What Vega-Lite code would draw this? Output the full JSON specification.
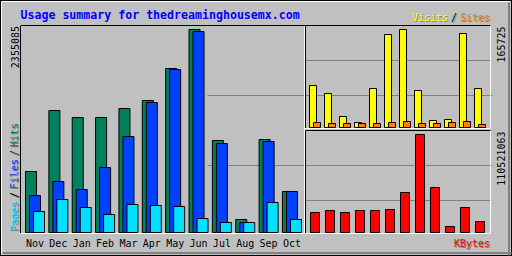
{
  "$schema": "https://vega.github.io/schema/vega-lite/v6.json",
  "width": 512,
  "height": 256,
  "autosize": {"type": "none"},
  "padding": 0,
  "background": "#c0c0c0",
  "data": {"values": [
    {"month": "Nov", "hits": 707700, "files": 429250, "pages": 243630, "visits": 71025, "sites": 8455, "kbytes": 22555320},
    {"month": "Dec", "hits": 1415370, "files": 591670, "pages": 382850, "visits": 57496, "sites": 6764, "kbytes": 24810850},
    {"month": "Jan", "hits": 1334160, "files": 498860, "pages": 290040, "visits": 18602, "sites": 6764, "kbytes": 22555320},
    {"month": "Feb", "hits": 1334160, "files": 754090, "pages": 208830, "visits": 8455, "sites": 6764, "kbytes": 24810850},
    {"month": "Mar", "hits": 1438570, "files": 1113730, "pages": 324840, "visits": 65952, "sites": 6764, "kbytes": 24810850},
    {"month": "Apr", "hits": 1531380, "files": 1508180, "pages": 313240, "visits": 157270, "sites": 8455, "kbytes": 25938620},
    {"month": "May", "hits": 1902630, "files": 1891030, "pages": 301640, "visits": 165725, "sites": 10146, "kbytes": 45110640},
    {"month": "Jun", "hits": 2355085, "files": 2331880, "pages": 162420, "visits": 62570, "sites": 6764, "kbytes": 110521063},
    {"month": "Jul", "hits": 1067330, "files": 1032520, "pages": 116010, "visits": 11837, "sites": 6764, "kbytes": 50749470},
    {"month": "Aug", "hits": 150820, "files": 116010, "pages": 116010, "visits": 13529, "sites": 8455, "kbytes": 6766600},
    {"month": "Sep", "hits": 1078930, "files": 1055730, "pages": 348040, "visits": 158961, "sites": 10146, "kbytes": 28194150},
    {"month": "Oct", "hits": 475660, "files": 475660, "pages": 150820, "visits": 65952, "sites": 5073, "kbytes": 12405430}
  ]},
  "layer": [
    {
      "mark": {"type": "bar", "width": 9, "opacity": 0},
      "encoding": {
        "x": {"field": "month", "type": "nominal", "sort": null,
          "scale": {"range": [1, 510], "paddingInner": 0, "paddingOuter": 0},
          "axis": {"orient": "top", "offset": -1, "domain": true, "domainColor": "white", "title": null}},
        "y": {"field": "hits", "type": "quantitative",
          "scale": {"domain": [0, 1], "range": [254, 1], "nice": false},
          "axis": {"orient": "left", "offset": -1, "domain": true, "domainColor": "white", "title": null}}
      }
    },
    {
      "mark": {"type": "bar", "width": 9, "opacity": 0},
      "encoding": {
        "x": {"field": "month", "type": "nominal", "sort": null,
          "scale": {"range": [2, 511], "paddingInner": 0, "paddingOuter": 0},
          "axis": {"orient": "bottom", "offset": -3.5, "domain": true, "domainColor": "#808080", "domainWidth": 2, "title": null}},
        "y": {"field": "hits", "type": "quantitative",
          "scale": {"domain": [0, 1], "range": [255, 2], "nice": false},
          "axis": {"orient": "right", "offset": -3.5, "domain": true, "domainColor": "#808080", "domainWidth": 2, "title": null}}
      }
    },
    {
      "mark": {"type": "bar", "width": 9, "opacity": 0},
      "encoding": {
        "x": {"field": "month", "type": "nominal", "sort": null,
          "scale": {"range": [0, 512], "paddingInner": 0, "paddingOuter": 0},
          "axis": {"orient": "top", "offset": 0, "domain": false, "title": "Visits", "titleX": 412.5, "titleY": 21.5, "titleAngle": 0, "titleAlign": "left", "titleBaseline": "alphabetic", "titleColor": "#808080"}},
        "y": {"field": "hits", "type": "quantitative",
          "scale": {"domain": [0, 1], "range": [256, 0], "nice": false},
          "axis": {"orient": "left", "offset": 0, "domain": false, "title": "Sites", "titleX": 460.5, "titleY": 21.5, "titleAngle": 0, "titleAlign": "left", "titleBaseline": "alphabetic", "titleColor": "#808080"}}
      }
    },
    {
      "mark": {"type": "bar", "width": 9, "opacity": 0},
      "encoding": {
        "x": {"field": "month", "type": "nominal", "sort": null,
          "scale": {"range": [0, 512], "paddingInner": 0, "paddingOuter": 0},
          "axis": {"orient": "top", "offset": 0, "domain": false, "title": "KBytes", "titleX": 454.5, "titleY": 247.5, "titleAngle": 0, "titleAlign": "left", "titleBaseline": "alphabetic", "titleColor": "#808080"}},
        "y": {"field": "hits", "type": "quantitative",
          "scale": {"domain": [0, 1], "range": [256, 0], "nice": false},
          "axis": {"orient": "left", "offset": 0, "domain": false, "title": "Pages", "titleX": 18.5, "titleY": 231.5, "titleAngle": -90, "titleAlign": "left", "titleBaseline": "alphabetic", "titleColor": "#808080"}}
      }
    },
    {
      "mark": {"type": "bar", "width": 9, "opacity": 0},
      "encoding": {
        "x": {"field": "month", "type": "nominal", "sort": null,
          "scale": {"range": [0, 512], "paddingInner": 0, "paddingOuter": 0},
          "axis": {"orient": "top", "offset": 0, "domain": false, "title": "Files", "titleX": 18.5, "titleY": 189.5, "titleAngle": -90, "titleAlign": "left", "titleBaseline": "alphabetic", "titleColor": "#808080"}},
        "y": {"field": "hits", "type": "quantitative",
          "scale": {"domain": [0, 1], "range": [256, 0], "nice": false},
          "axis": {"orient": "left", "offset": 0, "domain": false, "title": "Hits", "titleX": 18.5, "titleY": 147.5, "titleAngle": -90, "titleAlign": "left", "titleBaseline": "alphabetic", "titleColor": "#808080"}}
      }
    },
    {
      "mark": {"type": "bar", "width": 9, "opacity": 0},
      "encoding": {
        "x": {"field": "month", "type": "nominal", "sort": null,
          "scale": {"range": [0, 512], "paddingInner": 0, "paddingOuter": 0},
          "axis": {"orient": "top", "offset": 0, "domain": false, "title": "/", "titleX": 18.5, "titleY": 198.5, "titleAngle": -90, "titleAlign": "left", "titleBaseline": "alphabetic", "titleColor": "#808080"}},
        "y": {"field": "hits", "type": "quantitative",
          "scale": {"domain": [0, 1], "range": [256, 0], "nice": false},
          "axis": {"orient": "left", "offset": 0, "domain": false, "title": "/", "titleX": 18.5, "titleY": 156.5, "titleAngle": -90, "titleAlign": "left", "titleBaseline": "alphabetic", "titleColor": "#808080"}}
      }
    },
    {
      "mark": {"type": "bar", "width": 9, "opacity": 0},
      "encoding": {
        "x": {"field": "month", "type": "nominal", "sort": null,
          "scale": {"range": [0, 512], "paddingInner": 0, "paddingOuter": 0},
          "axis": {"orient": "top", "offset": 0, "domain": false, "title": "/", "titleX": 451.5, "titleY": 21.5, "titleAngle": 0, "titleAlign": "left", "titleBaseline": "alphabetic", "titleColor": "#808080"}},
        "y": {"field": "hits", "type": "quantitative",
          "scale": {"domain": [0, 1], "range": [256, 0], "nice": false},
          "axis": {"orient": "left", "offset": 0, "domain": false, "title": null}}
      }
    },
    {
      "mark": {"type": "bar", "width": 11, "xOffset": -4, "fill": "#00805c", "stroke": "black", "strokeWidth": 1},
      "encoding": {
        "x": {"field": "month", "type": "nominal", "sort": null,
          "scale": {"domain": ["Nov","Dec","Jan","Feb","Mar","Apr","May","Jun","Jul","Aug","Sep","Oct"], "range": [20, 305], "paddingInner": 0, "paddingOuter": 0.1, "align": 0.711},
          "axis": {"orient": "bottom", "offset": -23, "domain": true, "domainColor": "white", "labels": true, "labelAngle": 0, "labelAlign": "center", "labelBaseline": "alphabetic", "labelPadding": 13.5, "labelColor": "black",
            "title": "/", "titleX": 17.5, "titleY": -35.5, "titleAngle": -90, "titleAlign": "left", "titleBaseline": "alphabetic", "titleColor": "black"}},
        "y": {"field": "hits", "type": "quantitative",
          "scale": {"domain": [0, 2401490], "range": [232.5, 25.5], "nice": false, "zero": true},
          "axis": {"orient": "left", "offset": -20, "domain": true, "domainColor": "black", "values": [2355085], "format": "d", "labels": true, "labelAngle": -90, "labelAlign": "right", "labelBaseline": "alphabetic", "labelPadding": 1.5, "labelOffset": -4, "labelColor": "black",
            "title": "Hits", "titleX": -2.5, "titleY": 146.5, "titleAngle": -90, "titleAlign": "left", "titleBaseline": "alphabetic", "titleColor": "#00805c"}}
      }
    },
    {
      "mark": {"type": "bar", "width": 11, "xOffset": 0, "fill": "#0040ff", "stroke": "black", "strokeWidth": 1},
      "encoding": {
        "x": {"field": "month", "type": "nominal", "sort": null,
          "scale": {"domain": ["Nov","Dec","Jan","Feb","Mar","Apr","May","Jun","Jul","Aug","Sep","Oct"], "range": [20, 305], "paddingInner": 0, "paddingOuter": 0.1, "align": 0.711},
          "axis": {"orient": "top", "offset": -25, "domain": true, "domainColor": "black",
            "title": "Usage summary for thedreaminghousemx.com", "titleX": 20, "titleY": -6.5, "titleAngle": 0, "titleAlign": "left", "titleBaseline": "alphabetic", "titleColor": "#0000ff", "titleFontSize": 11.6, "titleFontWeight": "bold"}},
        "y": {"field": "files", "type": "quantitative",
          "scale": {"domain": [0, 2401490], "range": [232.5, 25.5], "nice": false, "zero": true},
          "axis": {"orient": "right", "offset": -208, "domain": true, "domainColor": "white", "grid": true, "values": [783095, 1595193],
            "title": "Files", "titleX": -286.5, "titleY": 188.5, "titleAngle": -90, "titleAlign": "left", "titleBaseline": "alphabetic", "titleColor": "#0040ff"}}
      }
    },
    {
      "mark": {"type": "bar", "width": 11, "xOffset": 4, "fill": "#00e0ff", "stroke": "black", "strokeWidth": 1},
      "encoding": {
        "x": {"field": "month", "type": "nominal", "sort": null,
          "scale": {"domain": ["Nov","Dec","Jan","Feb","Mar","Apr","May","Jun","Jul","Aug","Sep","Oct"], "range": [20, 305], "paddingInner": 0, "paddingOuter": 0.1, "align": 0.711},
          "axis": {"orient": "top", "offset": -25, "domain": false,
            "title": "/", "titleX": 17.5, "titleY": 130.5, "titleAngle": -90, "titleAlign": "left", "titleBaseline": "alphabetic", "titleColor": "black"}},
        "y": {"field": "pages", "type": "quantitative",
          "scale": {"domain": [0, 2401490], "range": [232.5, 25.5], "nice": false, "zero": true},
          "axis": {"orient": "left", "offset": -20, "domain": false,
            "title": "Pages", "titleX": -2.5, "titleY": 230.5, "titleAngle": -90, "titleAlign": "left", "titleBaseline": "alphabetic", "titleColor": "#00e0ff"}}
      }
    },
    {
      "mark": {"type": "bar", "width": 7, "xOffset": -2, "fill": "#ffff00", "stroke": "black", "strokeWidth": 1},
      "encoding": {
        "x": {"field": "month", "type": "nominal", "sort": null,
          "scale": {"domain": ["Nov","Dec","Jan","Feb","Mar","Apr","May","Jun","Jul","Aug","Sep","Oct"], "range": [305, 490], "paddingInner": 0, "paddingOuter": 0.16667, "align": 0.5},
          "axis": {"orient": "top", "offset": -25, "domain": true, "domainColor": "black",
            "title": "Visits", "titleX": 411.5, "titleY": -4.5, "titleAngle": 0, "titleAlign": "left", "titleBaseline": "alphabetic", "titleColor": "#ffff00"}},
        "y": {"field": "visits", "type": "quantitative",
          "scale": {"domain": [0, 172489], "range": [127.5, 25.5], "nice": false, "zero": true},
          "axis": {"orient": "right", "offset": -22, "domain": true, "domainColor": "white", "values": [165725], "format": "d", "labels": true, "labelAngle": -90, "labelAlign": "right", "labelBaseline": "alphabetic", "labelPadding": 14.5, "labelOffset": -3.5, "labelColor": "black", "title": null}}
      }
    },
    {
      "mark": {"type": "bar", "width": 7, "xOffset": 2, "fill": "#ff8000", "stroke": "black", "strokeWidth": 1},
      "encoding": {
        "x": {"field": "month", "type": "nominal", "sort": null,
          "scale": {"domain": ["Nov","Dec","Jan","Feb","Mar","Apr","May","Jun","Jul","Aug","Sep","Oct"], "range": [305, 490], "paddingInner": 0, "paddingOuter": 0.16667, "align": 0.5},
          "axis": {"orient": "bottom", "offset": -128, "domain": true, "domainColor": "white",
            "title": "/", "titleX": 450.5, "titleY": -107.5, "titleAngle": 0, "titleAlign": "left", "titleBaseline": "alphabetic", "titleColor": "black"}},
        "y": {"field": "sites", "type": "quantitative",
          "scale": {"domain": [0, 172489], "range": [127.5, 25.5], "nice": false, "zero": true},
          "axis": {"orient": "left", "offset": -305, "domain": true, "domainColor": "black", "grid": true, "values": [54960, 114147],
            "title": "Sites", "titleX": 154.5, "titleY": 20.5, "titleAngle": 0, "titleAlign": "left", "titleBaseline": "alphabetic", "titleColor": "#ff8000"}}
      }
    },
    {
      "mark": {"type": "bar", "width": 9, "xOffset": 0, "fill": "#ff0000", "stroke": "black", "strokeWidth": 1},
      "encoding": {
        "x": {"field": "month", "type": "nominal", "sort": null,
          "scale": {"domain": ["Nov","Dec","Jan","Feb","Mar","Apr","May","Jun","Jul","Aug","Sep","Oct"], "range": [305, 490], "paddingInner": 0, "paddingOuter": 0.16667, "align": 0.5},
          "axis": {"orient": "bottom", "offset": -23, "domain": true, "domainColor": "white",
            "title": "KBytes", "titleX": 453.5, "titleY": 13.5, "titleAngle": 0, "titleAlign": "left", "titleBaseline": "alphabetic", "titleColor": "#ff0000"}},
        "y": {"field": "kbytes", "type": "quantitative",
          "scale": {"domain": [0, 115031922], "range": [232.5, 130.5], "nice": false, "zero": true},
          "axis": {"orient": "right", "offset": -22, "domain": true, "domainColor": "white", "values": [110521063], "format": "d", "labels": true, "labelAngle": -90, "labelAlign": "right", "labelBaseline": "alphabetic", "labelPadding": 14.5, "labelOffset": -3.5, "labelColor": "black", "title": null}}
      }
    },
    {
      "mark": {"type": "bar", "width": 9, "opacity": 0},
      "encoding": {
        "x": {"field": "month", "type": "nominal", "sort": null,
          "scale": {"domain": ["Nov","Dec","Jan","Feb","Mar","Apr","May","Jun","Jul","Aug","Sep","Oct"], "range": [305, 490], "paddingInner": 0, "paddingOuter": 0.16667, "align": 0.5},
          "axis": {"orient": "top", "offset": -130, "domain": true, "domainColor": "black", "title": null}},
        "y": {"field": "kbytes", "type": "quantitative",
          "scale": {"domain": [0, 115031922], "range": [232.5, 130.5], "nice": false, "zero": true},
          "axis": {"orient": "left", "offset": -305, "domain": true, "domainColor": "black", "grid": true, "values": [36652395, 76124205], "title": null}}
      }
    }
  ],
  "resolve": {"scale": {"x": "independent", "y": "independent"}, "axis": {"x": "independent", "y": "independent"}},
  "config": {
    "view": {"stroke": "black", "strokeWidth": 2, "fill": "#c0c0c0"},
    "axis": {"ticks": false, "tickSize": 0, "labels": false, "grid": false, "gridColor": "#808080", "gridOpacity": 1, "gridWidth": 1, "domainWidth": 1, "domainOpacity": 1,
      "labelFont": "DejaVu Sans Mono", "labelFontSize": 10, "labelOverlap": false, "labelFlush": false,
      "titleFont": "DejaVu Sans Mono", "titleFontSize": 10, "titleFontWeight": "normal", "titlePadding": 0}
  }
}
